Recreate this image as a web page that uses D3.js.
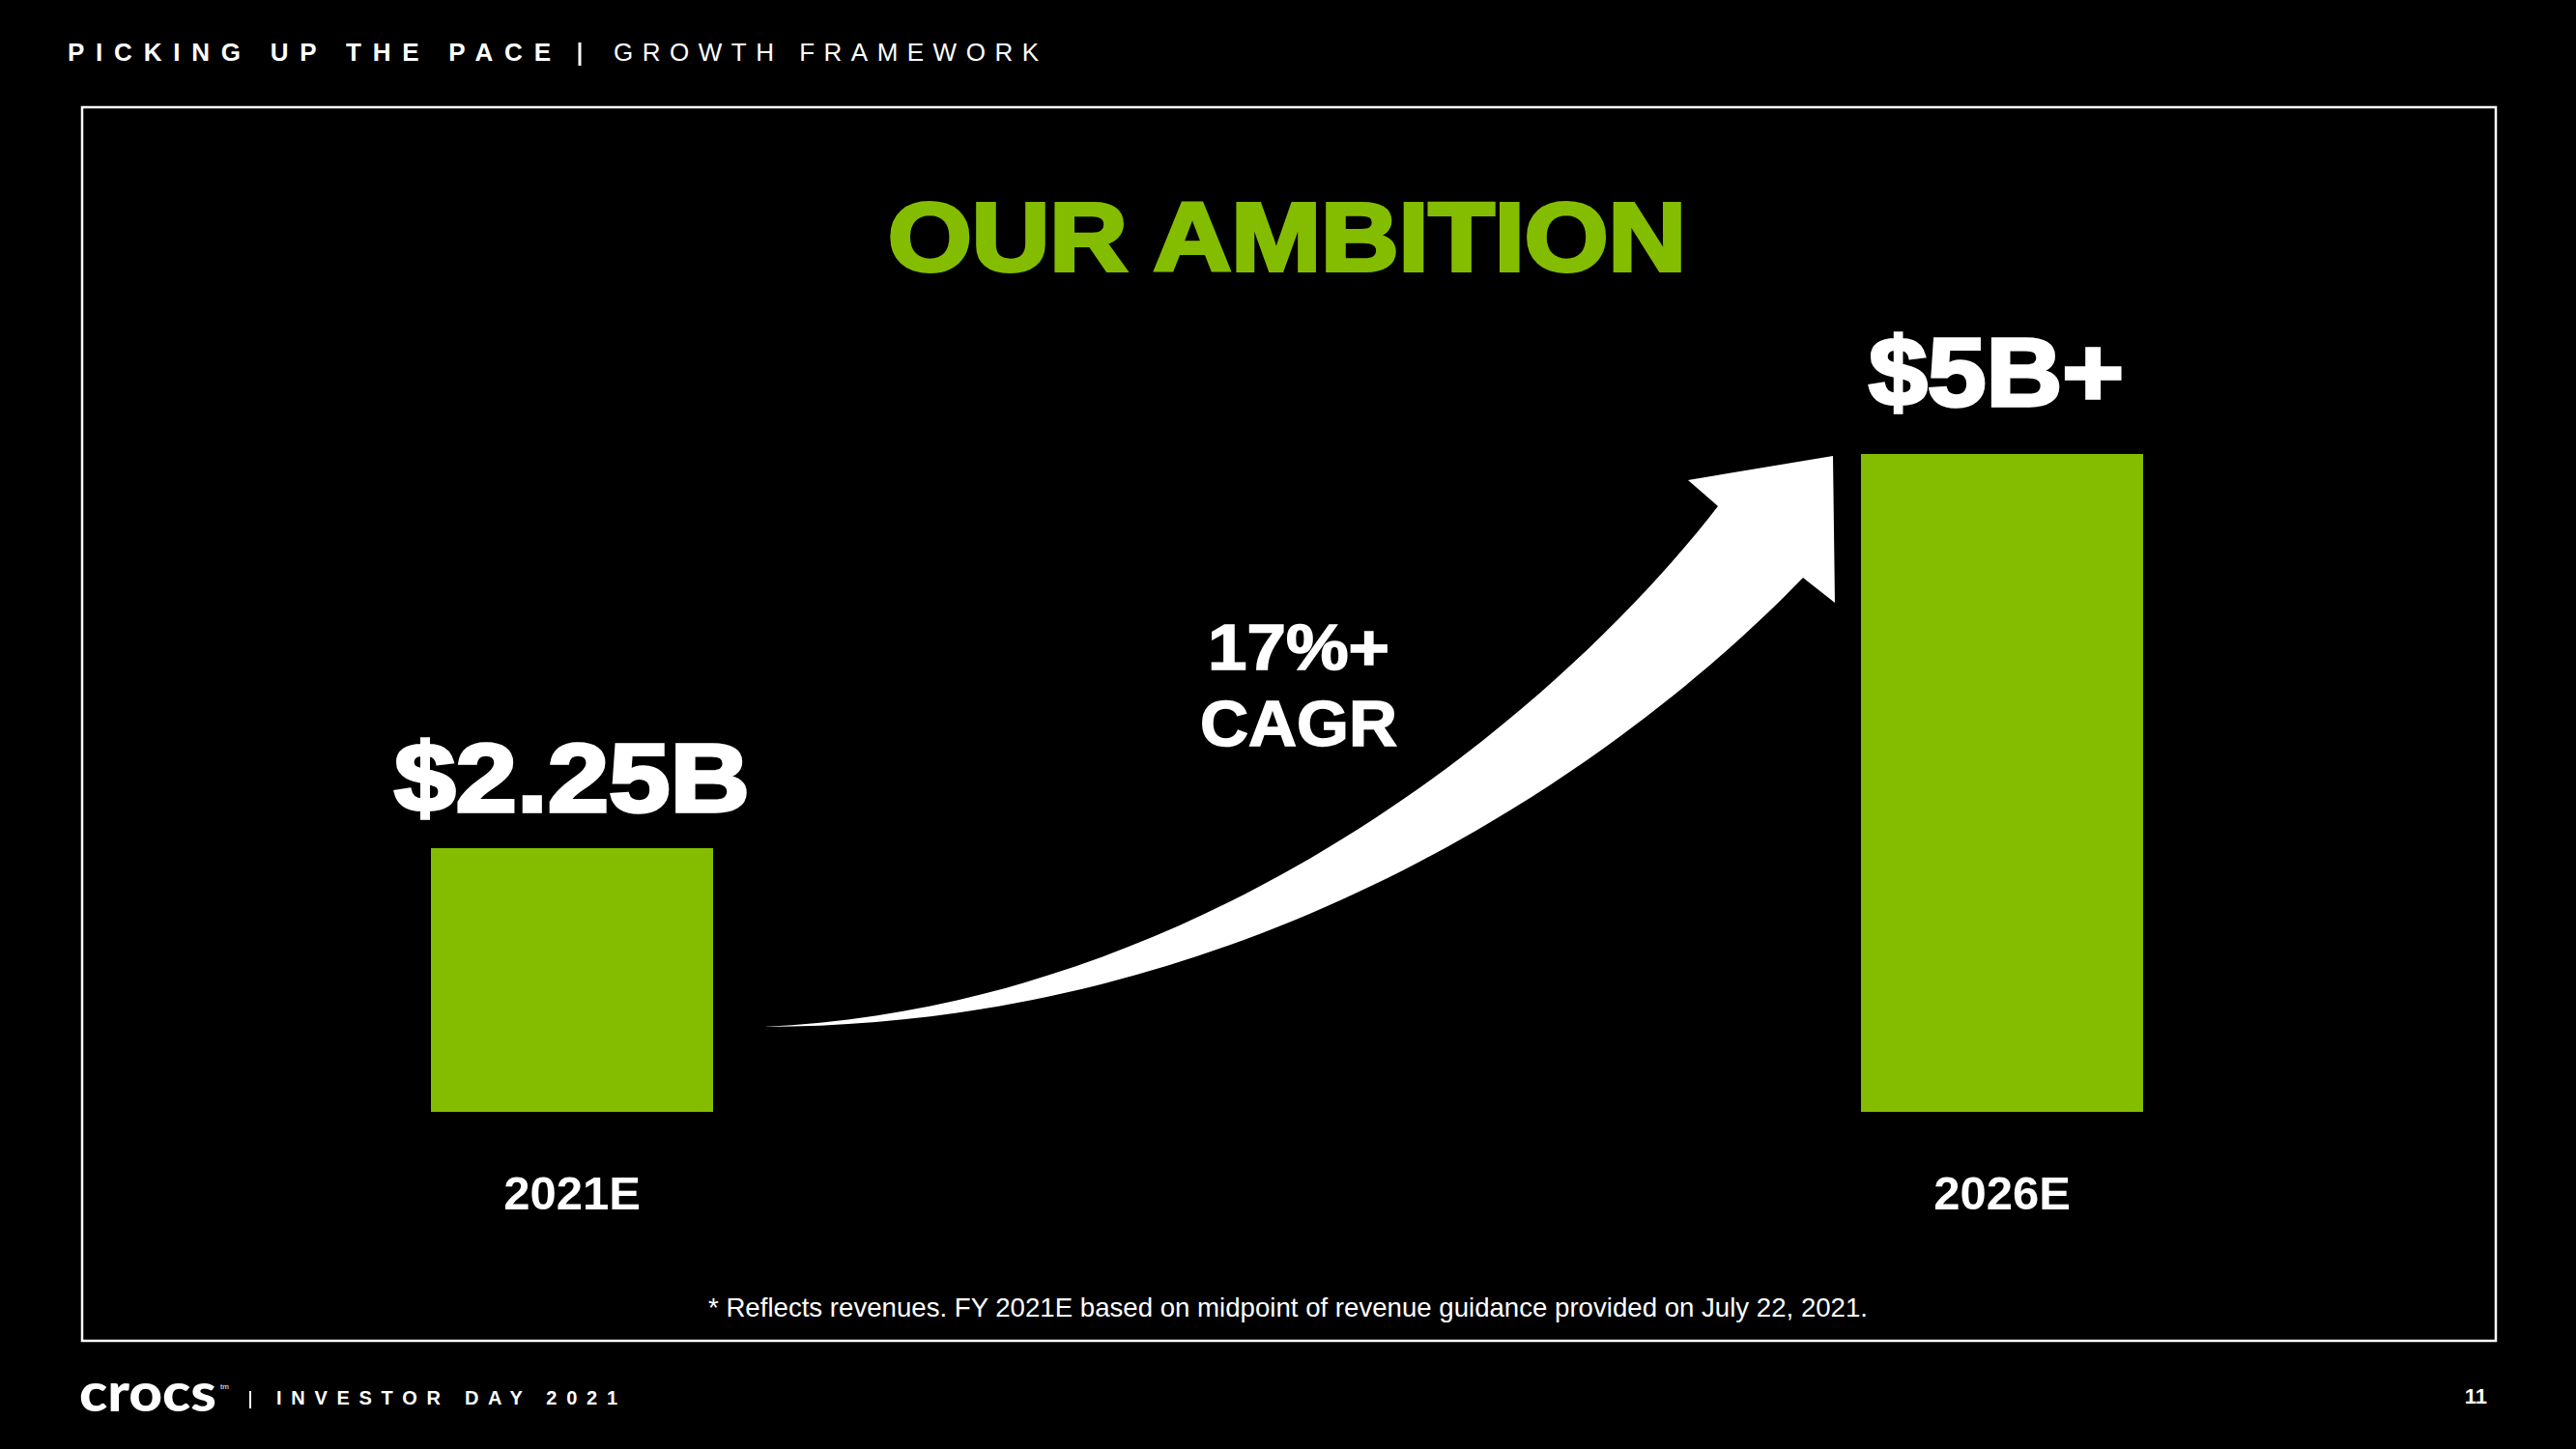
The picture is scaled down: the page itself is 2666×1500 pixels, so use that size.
<!DOCTYPE html>
<head>
  <meta charset="utf-8">
  <script src="https://d3js.org/d3.v7.min.js"></script>
</head>
<style>
  html, body { margin: 0; padding: 0; background: #000; }
  svg { display: block; }
  text { font-family: "Liberation Sans", Arial, sans-serif; }
</style>
<body>
<div id="chart"></div>
<script>
'use strict';

// chart values
var years = ["2021E", "2026E"];
var revenues = [2.25, 5];
var valueLabels = ["$2.25B", "$5B+"];
var cagrLines = ["17%+", "CAGR"];

var W = 2666, H = 1500;
var green = "#84bd00";

var svg = d3.select("#chart").append("svg")
  .attr("width", W).attr("height", H)
  .style("background", "#000");

// header
svg.append("text")
  .attr("x", 70).attr("y", 63)
  .attr("fill", "#fff").style("font-size", "26px").style("font-weight", "bold")
  .attr("textLength", 500).attr("lengthAdjust", "spacing")
  .text("PICKING UP THE PACE");
svg.append("line")
  .attr("x1", 600).attr("x2", 600).attr("y1", 44).attr("y2", 68)
  .attr("stroke", "#fff").attr("stroke-width", 3);
svg.append("text")
  .attr("x", 635).attr("y", 63)
  .attr("fill", "#fff").style("font-size", "26px")
  .attr("textLength", 440).attr("lengthAdjust", "spacing")
  .text("GROWTH FRAMEWORK");

// frame
svg.append("rect")
  .attr("x", 85).attr("y", 111).attr("width", 2498).attr("height", 1277)
  .attr("fill", "none").attr("stroke", "#fff").attr("stroke-width", 2.5);

// title
svg.append("text")
  .attr("x", 1332).attr("y", 280).attr("text-anchor", "middle")
  .attr("fill", green).attr("stroke", green).attr("stroke-width", 4)
  .style("font-size", "100px").style("font-weight", "bold")
  .attr("textLength", 826).attr("lengthAdjust", "spacingAndGlyphs")
  .text("OUR AMBITION");

// scales
var x = d3.scalePoint().domain(years).range([592, 2072]);
var barWidth = 292;
var y = d3.scaleLinear().domain([0.41, 5]).range([1151, 470]);

var data = years.map(function(d, i) {
  return {year: d, value: revenues[i], label: valueLabels[i]};
});

var bars = svg.append("g").attr("class", "bars").selectAll("g")
  .data(data).enter().append("g");

bars.append("rect")
  .attr("x", d => x(d.year) - barWidth / 2)
  .attr("y", d => y(d.value))
  .attr("width", barWidth)
  .attr("height", d => y.range()[0] - y(d.value))
  .attr("fill", green);

var labelWidth = {"$2.25B": 368, "$5B+": 264};
bars.append("text")
  .attr("x", d => x(d.year) - (d.label == "$5B+" ? 6 : 0))
  .attr("y", d => y(d.value) - (d.label == "$5B+" ? 50 : 38))
  .attr("text-anchor", "middle")
  .attr("fill", "#fff").attr("stroke", "#fff").attr("stroke-width", 3.5)
  .style("font-size", "101px").style("font-weight", "bold")
  .attr("textLength", d => labelWidth[d.label]).attr("lengthAdjust", "spacingAndGlyphs")
  .text(d => d.label);

bars.append("text")
  .attr("x", d => x(d.year))
  .attr("y", 1252)
  .attr("text-anchor", "middle")
  .attr("fill", "#fff")
  .style("font-size", "49px").style("font-weight", "bold")
  .text(d => d.year);

// growth arrow
var arrow = {
  tail: [790, 1063],
  upper: [[1250, 1042], [1615, 735], [1778, 524]],
  head: [[1747, 497], [1897, 472], [1899, 624], [1866, 598]],
  lower: [[1690, 780], [1310, 1062], [790, 1063]]
};
var p = d3.path();
p.moveTo(arrow.tail[0], arrow.tail[1]);
p.bezierCurveTo(arrow.upper[0][0], arrow.upper[0][1], arrow.upper[1][0], arrow.upper[1][1], arrow.upper[2][0], arrow.upper[2][1]);
arrow.head.forEach(pt => p.lineTo(pt[0], pt[1]));
p.bezierCurveTo(arrow.lower[0][0], arrow.lower[0][1], arrow.lower[1][0], arrow.lower[1][1], arrow.lower[2][0], arrow.lower[2][1]);
p.closePath();
svg.append("path").attr("d", p.toString()).attr("fill", "#fff");

// CAGR label
svg.append("g").selectAll("text").data(cagrLines).enter().append("text")
  .attr("x", 1344)
  .attr("y", (d, i) => 693 + i * 79)
  .attr("text-anchor", "middle")
  .attr("fill", "#fff").attr("stroke", "#fff").attr("stroke-width", 1.5)
  .style("font-size", "67px").style("font-weight", "bold")
  .attr("textLength", (d, i) => i ? 204 : 188).attr("lengthAdjust", "spacingAndGlyphs")
  .text(d => d);

// footnote
svg.append("text")
  .attr("x", 1333).attr("y", 1363).attr("text-anchor", "middle")
  .attr("fill", "#fff").style("font-size", "28px")
  .attr("textLength", 1200).attr("lengthAdjust", "spacingAndGlyphs")
  .text("* Reflects revenues. FY 2021E based on midpoint of revenue guidance provided on July 22, 2021.");

// footer
svg.append("text")
  .attr("x", 82).attr("y", 1461)
  .attr("fill", "#fff")
  .style("font-family", "Lato, 'Open Sans', sans-serif")
  .style("font-size", "56px").style("font-weight", "900")
  .attr("textLength", 142).attr("lengthAdjust", "spacingAndGlyphs")
  .text("crocs");
svg.append("text")
  .attr("x", 228).attr("y", 1438)
  .attr("fill", "#fff").style("font-size", "8px")
  .text("tm");
svg.append("line")
  .attr("x1", 259).attr("x2", 259).attr("y1", 1440).attr("y2", 1458)
  .attr("stroke", "#fff").attr("stroke-width", 2);
svg.append("text")
  .attr("x", 286).attr("y", 1454)
  .attr("fill", "#fff").style("font-size", "20px").style("font-weight", "bold")
  .attr("textLength", 353).attr("lengthAdjust", "spacing")
  .text("INVESTOR DAY 2021");
svg.append("text")
  .attr("x", 2574).attr("y", 1453).attr("text-anchor", "end")
  .attr("fill", "#fff").style("font-size", "22px").style("font-weight", "bold")
  .text("11");
</script>
</body>
